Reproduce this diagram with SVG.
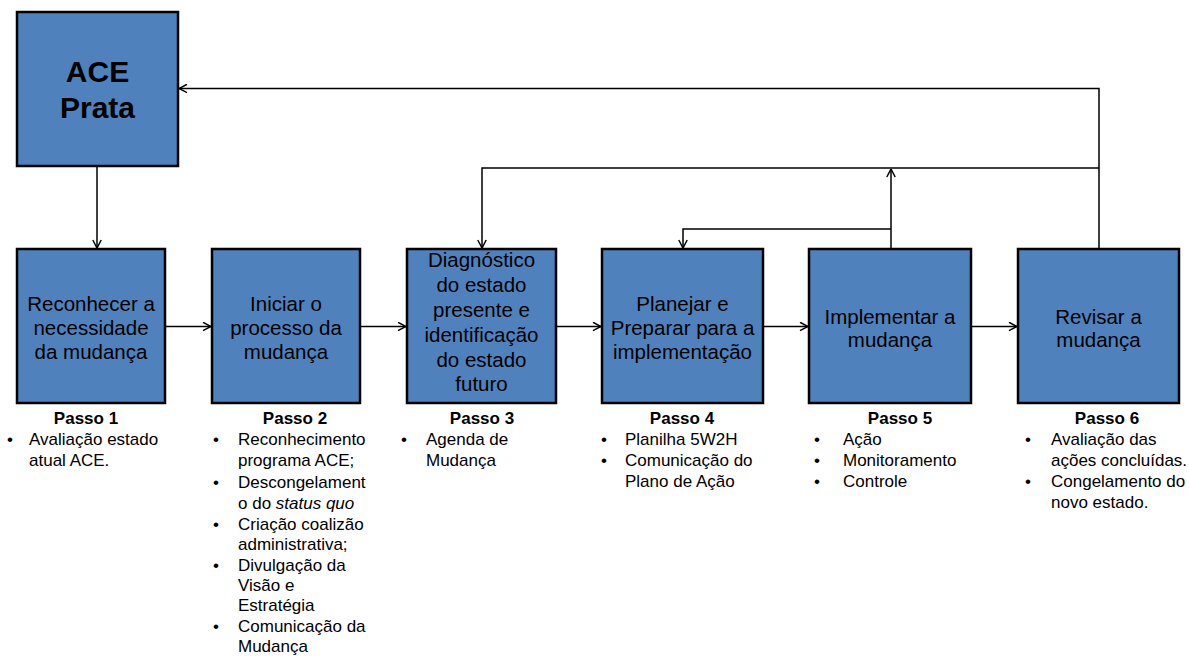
<svg xmlns="http://www.w3.org/2000/svg" width="1189" height="656" viewBox="0 0 1189 656">
<style>
.box{fill:#4F81BD;stroke:#000;stroke-width:2.5}
.bt{font-family:"Liberation Sans",Arial,sans-serif;font-size:20.5px;fill:#000;text-anchor:middle}
.big{font-family:"Liberation Sans",Arial,sans-serif;font-size:30px;font-weight:bold;fill:#000;text-anchor:middle}
.ps{font-family:"Liberation Sans",Arial,sans-serif;font-size:17px;font-weight:bold;fill:#000;text-anchor:middle}
.li{font-family:"Liberation Sans",Arial,sans-serif;font-size:17px;fill:#000}
.c{fill:none;stroke:#000;stroke-width:1.5}
</style>
<defs>
<marker id="ah" markerUnits="userSpaceOnUse" viewBox="0 0 10 10" refX="9.5" refY="5" markerWidth="10" markerHeight="10" orient="auto">
<path d="M1.5,0.8 L9.5,5 L1.5,9.2" fill="none" stroke="#000" stroke-width="1.5"/>
</marker>
</defs>
<g id="connectors">
<path class="c" d="M97,167 V248" marker-end="url(#ah)"/>
<path class="c" d="M166,326.5 H211" marker-end="url(#ah)"/>
<path class="c" d="M361,326.5 H406" marker-end="url(#ah)"/>
<path class="c" d="M557,326.5 H601" marker-end="url(#ah)"/>
<path class="c" d="M764,326.5 H808" marker-end="url(#ah)"/>
<path class="c" d="M972,326.5 H1017" marker-end="url(#ah)"/>
<path class="c" d="M1099,248 V88.5 H179" marker-end="url(#ah)"/>
<path class="c" d="M1099,168 H482 V248" marker-end="url(#ah)"/>
<path class="c" d="M891,248 V169" marker-end="url(#ah)"/>
<path class="c" d="M891,229 H683 V248" marker-end="url(#ah)"/>
</g>
<g id="ace">
<rect class="box" x="17" y="12" width="161" height="154"/>
<text class="big" x="97.5" y="82">ACE</text>
<text class="big" x="97.5" y="118">Prata</text>
</g>
<g id="step1">
<rect class="box" x="17" y="249" width="148" height="154"/>
<text class="bt" x="91" y="311">Reconhecer a</text>
<text class="bt" x="91" y="335">necessidade</text>
<text class="bt" x="91" y="359">da mudança</text>
</g>
<g id="step2">
<rect class="box" x="212" y="249" width="148" height="154"/>
<text class="bt" x="286" y="311">Iniciar o</text>
<text class="bt" x="286" y="335">processo da</text>
<text class="bt" x="286" y="359">mudança</text>
</g>
<g id="step3">
<rect class="box" x="407" y="249" width="149" height="154"/>
<text class="bt" x="481.5" y="267">Diagnóstico</text>
<text class="bt" x="481.5" y="292">do estado</text>
<text class="bt" x="481.5" y="317">presente e</text>
<text class="bt" x="481.5" y="342">identificação</text>
<text class="bt" x="481.5" y="367">do estado</text>
<text class="bt" x="481.5" y="391">futuro</text>
</g>
<g id="step4">
<rect class="box" x="602" y="249" width="161" height="154"/>
<text class="bt" x="682.5" y="311">Planejar e</text>
<text class="bt" x="682.5" y="335">Preparar para a</text>
<text class="bt" x="682.5" y="359">implementação</text>
</g>
<g id="step5">
<rect class="box" x="809" y="249" width="162" height="154"/>
<text class="bt" x="890" y="324">Implementar a</text>
<text class="bt" x="890" y="347">mudança</text>
</g>
<g id="step6">
<rect class="box" x="1018" y="249" width="161" height="154"/>
<text class="bt" x="1098.5" y="324">Revisar a</text>
<text class="bt" x="1098.5" y="347">mudança</text>
</g>
<g id="notes1">
<text class="ps" x="86" y="424">Passo 1</text>
<text class="li" x="7" y="445">•</text>
<text class="li" x="29" y="445">Avaliação estado</text>
<text class="li" x="29" y="466">atual ACE.</text>
</g>
<g id="notes2">
<text class="ps" x="295" y="424">Passo 2</text>
<text class="li" x="213" y="445">•</text>
<text class="li" x="238" y="445">Reconhecimento</text>
<text class="li" x="238" y="466">programa ACE;</text>
<text class="li" x="213" y="488">•</text>
<text class="li" x="238" y="488">Descongelament</text>
<text class="li" x="238" y="509">o do <tspan font-style="italic">status quo</tspan></text>
<text class="li" x="213" y="530">•</text>
<text class="li" x="238" y="530">Criação coalizão</text>
<text class="li" x="238" y="550">administrativa;</text>
<text class="li" x="213" y="571">•</text>
<text class="li" x="238" y="571">Divulgação da</text>
<text class="li" x="238" y="591">Visão e</text>
<text class="li" x="238" y="611">Estratégia</text>
<text class="li" x="213" y="632">•</text>
<text class="li" x="238" y="632">Comunicação da</text>
<text class="li" x="238" y="652">Mudança</text>
</g>
<g id="notes3">
<text class="ps" x="482" y="424">Passo 3</text>
<text class="li" x="401" y="445">•</text>
<text class="li" x="426" y="445">Agenda de</text>
<text class="li" x="426" y="466">Mudança</text>
</g>
<g id="notes4">
<text class="ps" x="682" y="424">Passo 4</text>
<text class="li" x="601" y="445">•</text>
<text class="li" x="625" y="445">Planilha 5W2H</text>
<text class="li" x="601" y="466">•</text>
<text class="li" x="625" y="466">Comunicação do</text>
<text class="li" x="625" y="487">Plano de Ação</text>
</g>
<g id="notes5">
<text class="ps" x="900" y="424">Passo 5</text>
<text class="li" x="814" y="445">•</text>
<text class="li" x="843" y="445">Ação</text>
<text class="li" x="814" y="466">•</text>
<text class="li" x="843" y="466">Monitoramento</text>
<text class="li" x="814" y="487">•</text>
<text class="li" x="843" y="487">Controle</text>
</g>
<g id="notes6">
<text class="ps" x="1107" y="424">Passo 6</text>
<text class="li" x="1025" y="445">•</text>
<text class="li" x="1051" y="445">Avaliação das</text>
<text class="li" x="1051" y="466">ações concluídas.</text>
<text class="li" x="1025" y="487">•</text>
<text class="li" x="1051" y="487">Congelamento do</text>
<text class="li" x="1051" y="508">novo estado.</text>
</g>
</svg>
